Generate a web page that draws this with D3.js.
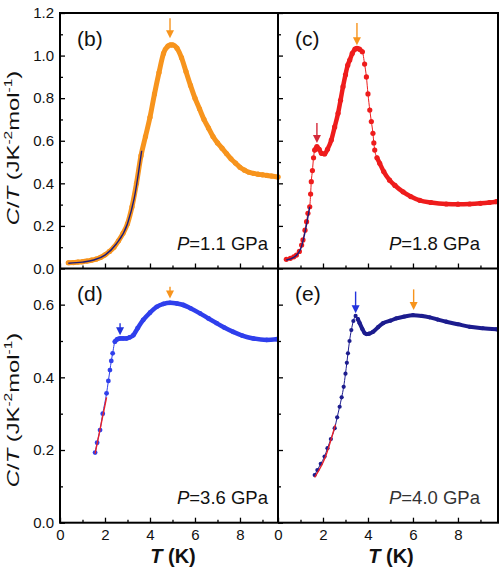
<!DOCTYPE html>
<html><head><meta charset="utf-8">
<script src="https://cdn.jsdelivr.net/npm/d3@7"></script>
<style>body{margin:0;background:#fff}svg{display:block;font-family:"Liberation Sans",Arial,sans-serif}</style>
</head><body>
<svg id="c" width="504" height="571"></svg>
<script>
// ---------- DATA ----------
// Panel (b) P=1.1 GPa
const bT = [0.37,0.6,0.8,1.0,1.2,1.4,1.6,1.8,2.0,2.2,2.4,2.6,2.8,3.0,3.2,3.4,3.6,3.8,4.0,4.2,4.4,4.6,4.8,4.9,5.0,5.2,5.4,5.6,5.8,6.0,6.2,6.4,6.6,6.8,7.0,7.2,7.4,7.6,7.8,8.0,8.2,8.4,8.6,8.8,9.0,9.2,9.4,9.69];
const bC = [0.027,0.028,0.030,0.032,0.035,0.039,0.044,0.052,0.064,0.080,0.100,0.130,0.165,0.210,0.290,0.400,0.530,0.620,0.710,0.820,0.920,1.010,1.045,1.050,1.050,1.035,0.990,0.925,0.860,0.800,0.750,0.700,0.660,0.620,0.590,0.565,0.540,0.515,0.495,0.475,0.462,0.452,0.447,0.443,0.440,0.437,0.434,0.430];
const bFitT = [0.37,1.0,1.5,2.0,2.5,3.0,3.3,3.63];
const bFitC = [0.025,0.030,0.040,0.063,0.115,0.210,0.330,0.553];
// Panel (c) P=1.8 GPa
const cT = [0.37,0.55,0.7,0.82,0.95,1.05,1.11,1.2,1.27,1.33,1.41,1.45,1.48,1.53,1.58,1.63,1.73,1.83,1.93,2.07,2.2,2.37,2.52,2.67,2.78,2.89,3.0,3.1,3.19,3.3,3.42,3.51,3.62,3.75,3.85,3.93,4.0,4.08,4.15,4.22,4.26,4.3,4.4,4.52,4.7,4.96,5.2,5.56,5.9,6.3,6.8,7.48,8.0,8.52,9.0,9.4,9.71];
const cC = [0.043,0.048,0.055,0.063,0.080,0.110,0.134,0.180,0.220,0.259,0.290,0.350,0.408,0.460,0.520,0.556,0.572,0.560,0.541,0.538,0.560,0.603,0.665,0.729,0.790,0.854,0.910,0.955,0.979,1.010,1.030,1.034,1.030,1.018,0.960,0.900,0.820,0.744,0.690,0.635,0.590,0.556,0.520,0.494,0.455,0.415,0.390,0.360,0.338,0.320,0.310,0.303,0.302,0.303,0.306,0.310,0.314];
const cFitT = [0.37,0.7,1.0,1.2,1.41];
const cFitC = [0.040,0.052,0.090,0.170,0.290];
// Panel (d) P=3.6 GPa
const dT = [1.56,1.65,1.78,1.9,2.07,2.15,2.22,2.28,2.34,2.44,2.55,2.67,2.8,2.96,3.1,3.26,3.45,3.7,4.0,4.3,4.6,4.89,5.2,5.48,5.8,6.22,6.6,6.96,7.3,7.7,8.1,8.59,9.19,9.63];
const dC = [0.193,0.220,0.255,0.300,0.356,0.390,0.420,0.445,0.466,0.498,0.505,0.507,0.507,0.507,0.510,0.516,0.535,0.558,0.578,0.594,0.602,0.605,0.603,0.599,0.590,0.576,0.562,0.549,0.537,0.525,0.515,0.507,0.503,0.505];
const dFitT = [1.56,2.07];
const dFitC = [0.190,0.345];
// Panel (e) P=4.0 GPa
const eT = [1.63,1.75,1.9,2.07,2.2,2.35,2.52,2.63,2.74,2.83,2.92,3.0,3.06,3.11,3.18,3.26,3.35,3.45,3.55,3.63,3.75,3.85,3.93,4.05,4.22,4.45,4.67,5.0,5.26,5.6,6.0,6.4,6.74,7.1,7.48,8.0,8.52,9.1,9.71];
const eC = [0.131,0.145,0.162,0.182,0.205,0.230,0.260,0.290,0.319,0.345,0.374,0.410,0.440,0.466,0.500,0.530,0.555,0.569,0.560,0.549,0.533,0.522,0.519,0.520,0.525,0.538,0.549,0.556,0.562,0.567,0.571,0.569,0.565,0.559,0.553,0.546,0.539,0.535,0.532];
const eFitT = [1.63,2.1,2.55];
const eFitC = [0.125,0.180,0.270];
// Arrows: [T, tail value, tip value]
const bArrows = [[4.89,1.175,1.081]];
const cArrows = [[3.51,1.153,1.049],[1.73,0.683,0.589]];
const dArrows = [[4.89,0.649,0.617],[2.67,0.549,0.516]];
const eArrows = [[3.45,0.636,0.576],[6.03,0.642,0.585]];
// Ticks
const xMajor = [0,2,4,6,8];
const xMinor = [1,3,5,7,9];
const yTopMajor = [0,0.2,0.4,0.6,0.8,1.0,1.2];
const yTopMinor = [0.1,0.3,0.5,0.7,0.9,1.1];
const yBotMajor = [0,0.2,0.4,0.6];
const yBotMinor = [0.1,0.3,0.5];

// ---------- LAYOUT ----------
const FONT="'Liberation Sans', Arial, sans-serif";
const ORANGE="#f7941d", RED="#ee1c1c", BLUE="#2f3fec", NAVY="#1c1c8e";
const svg = d3.select("#c");
const L={x0:60,x1:278}, R={x0:278,x1:498}, T={y0:13,y1:268.5}, B={y0:268.3,y1:522.7};

const panels = [
 {col:L,row:T,xd:[0,9.69],yd:[0,1.2],T:bT,C:bC,fT:bFitT,fC:bFitC,color:ORANGE,fit:"#1b1b7c",arrows:bArrows,arrowCols:[ORANGE],label:"(b)",P:"1.1",yMaj:yTopMajor,yMin:yTopMinor,left:true,bottom:false,band:5,dot:2.6,thin:1.2,bands:[[0,10]]},
 {col:R,row:T,xd:[0,9.78],yd:[0,1.2],T:cT,C:cC,fT:cFitT,fC:cFitC,color:RED,fit:"#1b1b7c",arrows:cArrows,arrowCols:[ORANGE,"#d42a3a"],label:"(c)",P:"1.8",yMaj:yTopMajor,yMin:yTopMinor,left:false,bottom:false,band:4.5,dot:2.6,thin:1,bands:[[1.6,3.8],[4.4,10]]},
 {col:L,row:B,xd:[0,9.69],yd:[0,0.7],T:dT,C:dC,fT:dFitT,fC:dFitC,color:BLUE,fit:"#e82028",arrows:dArrows,arrowCols:[ORANGE,"#2233dd"],label:"(d)",P:"3.6",yMaj:yBotMajor,yMin:yBotMinor,left:true,bottom:true,band:4.5,dot:2.4,thin:1,bands:[[2.4,10]]},
 {col:R,row:B,xd:[0,9.78],yd:[0,0.7],T:eT,C:eC,fT:eFitT,fC:eFitC,color:NAVY,fit:"#e82028",arrows:eArrows,arrowCols:["#2233dd",ORANGE],label:"(e)",P:"4.0",yMaj:yBotMajor,yMin:yBotMinor,left:false,bottom:true,band:4,dot:2.1,thin:1,bands:[[3.5,10]]}
];

panels.forEach(p=>{
  const x=d3.scaleLinear().domain(p.xd).range([p.col.x0,p.col.x1]);
  const y=d3.scaleLinear().domain(p.yd).range([p.row.y1,p.row.y0]);
  const g=svg.append("g");
  const pts=p.T.map((t,i)=>[t,p.C[i]]);
  const line=d3.line().x(d=>x(d[0])).y(d=>y(d[1])).curve(d3.curveMonotoneX);
  g.append("path").attr("d",line(pts)).attr("fill","none").attr("stroke",p.color).attr("stroke-width",p.thin);
  p.bands.forEach(([a,b])=>{
    g.append("path").attr("d",line(pts.filter(d=>d[0]>=a&&d[0]<=b))).attr("fill","none").attr("stroke",p.color).attr("stroke-width",p.band).attr("stroke-linecap","round").attr("stroke-linejoin","round");
  });
  g.selectAll("circle").data(pts).join("circle").attr("cx",d=>x(d[0])).attr("cy",d=>y(d[1])).attr("r",p.dot).attr("fill",p.color);
  const fpts=p.fT.map((t,i)=>[t,p.fC[i]]);
  g.append("path").attr("d",line(fpts)).attr("fill","none").attr("stroke",p.fit).attr("stroke-width",1.4);
  p.arrows.forEach((a,i)=>{
    const ax=x(a[0]), y0=y(a[1]), y1=y(a[2]), col=p.arrowCols[i];
    g.append("line").attr("x1",ax).attr("x2",ax).attr("y1",y0).attr("y2",y1-4).attr("stroke",col).attr("stroke-width",1.4);
    g.append("path").attr("d",`M${ax-4},${y1-8}L${ax+4},${y1-8}L${ax},${y1}Z`).attr("fill",col);
  });
  const yAx=d3.axisLeft(y).tickValues(p.yMaj).tickSize(-5).tickPadding(6).tickFormat(p.left?d3.format(".1f"):()=>"");
  const yMi=d3.axisLeft(y).tickValues(p.yMin).tickSize(-3).tickFormat(()=>"");
  const xAx=d3.axisBottom(x).tickValues(xMajor).tickSize(-5).tickPadding(7).tickFormat(p.bottom?d3.format("d"):()=>"");
  const xMi=d3.axisBottom(x).tickValues(xMinor).tickSize(-3).tickFormat(()=>"");
  [[yAx,`translate(${p.col.x0},0)`],[yMi,`translate(${p.col.x0},0)`],[xAx,`translate(0,${p.row.y1})`],[xMi,`translate(0,${p.row.y1})`]].forEach(([ax,tr])=>{
    const a=svg.append("g").attr("transform",tr).call(ax);
    a.select(".domain").remove();
    a.selectAll("line").attr("stroke","#000").attr("stroke-width",1.3);
    a.selectAll("text").attr("font-size",15).attr("fill","#111").attr("font-family",FONT);
  });
  svg.append("text").attr("x",p.col.x0+17).attr("y",p.row.y0+33).attr("font-size",21).attr("fill","#111").text(p.label);
  const pt=svg.append("text").attr("x",p.col.x1-(p.left?10:18)).attr("y",p.row.y1-19).attr("text-anchor","end").attr("font-size",18.5).attr("fill",p.bottom&&!p.left?"#333":"#111");
  pt.append("tspan").attr("font-style","italic").text("P");
  pt.append("tspan").text("="+p.P+" GPa");
});

svg.append("rect").attr("x",L.x0).attr("y",T.y0).attr("width",R.x1-L.x0).attr("height",B.y1-T.y0).attr("fill","none").attr("stroke","#000").attr("stroke-width",2);
svg.append("line").attr("x1",L.x1).attr("x2",L.x1).attr("y1",T.y0).attr("y2",B.y1).attr("stroke","#000").attr("stroke-width",2);
svg.append("line").attr("x1",L.x0).attr("x2",R.x1).attr("y1",T.y1).attr("y2",T.y1).attr("stroke","#000").attr("stroke-width",2);

[[148],[410]].forEach(([cy])=>{
  const t=svg.append("text").attr("transform",`translate(19,${cy}) rotate(-90) scale(1.4,1)`).attr("text-anchor","middle").attr("font-size",17).attr("fill","#111");
  t.append("tspan").attr("font-style","italic").text("C");
  t.append("tspan").text("/");
  t.append("tspan").attr("font-style","italic").text("T");
  t.append("tspan").text(" (JK");
  t.append("tspan").attr("font-size",11).attr("dy",-7).text("-2");
  t.append("tspan").attr("dy",7).text("mol");
  t.append("tspan").attr("font-size",11).attr("dy",-7).text("-1");
  t.append("tspan").attr("dy",7).text(")");
});
[[(L.x0+L.x1)/2+4],[(R.x0+R.x1)/2+3]].forEach(([cx])=>{
  const t=svg.append("text").attr("x",cx).attr("y",563).attr("text-anchor","middle").attr("font-size",20).attr("font-weight","bold").attr("fill","#111");
  t.append("tspan").attr("font-style","italic").text("T");
  t.append("tspan").text(" (K)");
});
</script>
</body></html>
